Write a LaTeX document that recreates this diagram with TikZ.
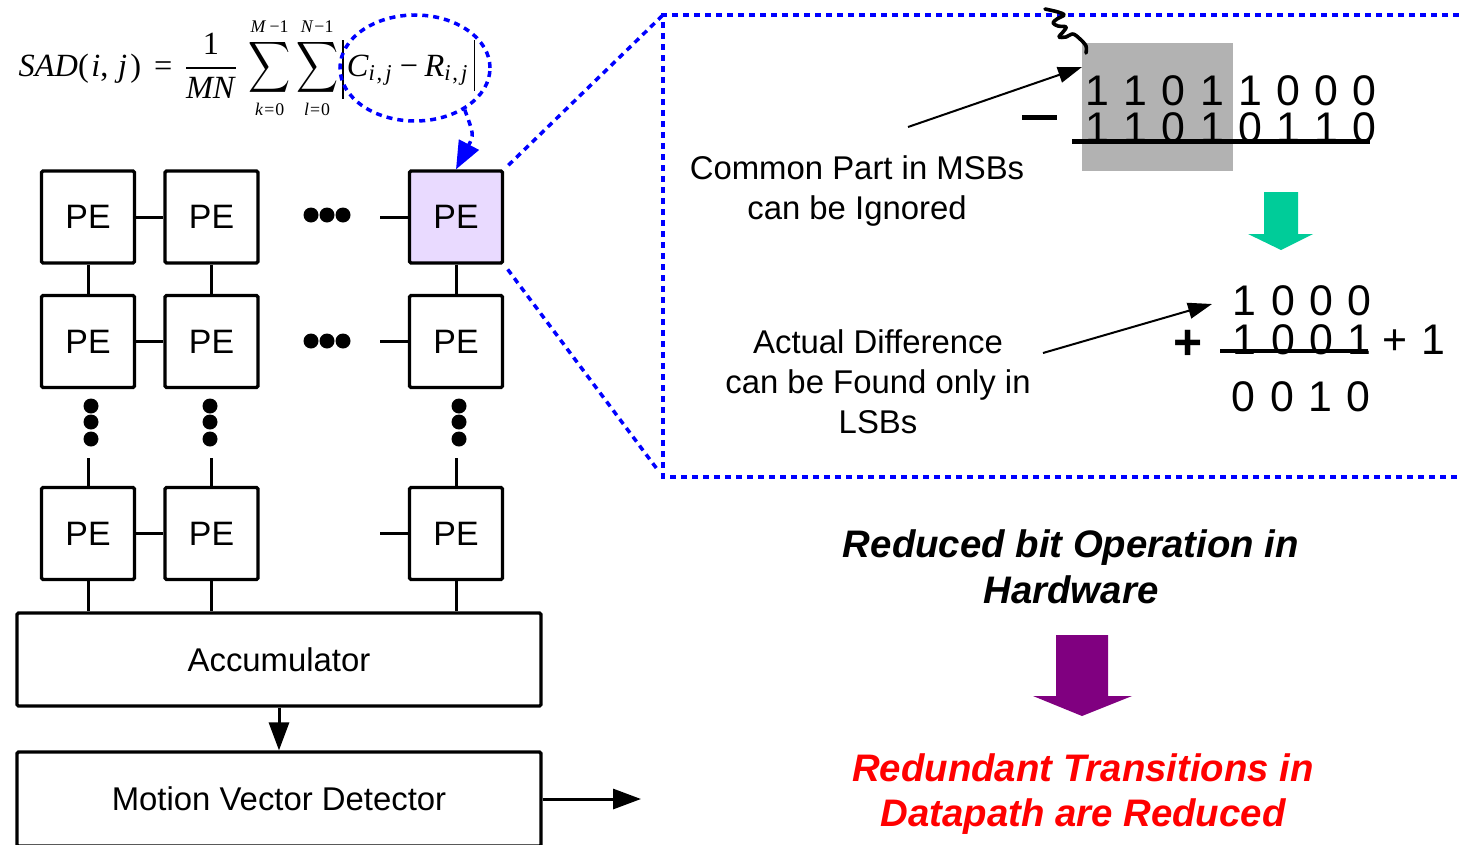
\documentclass[tikz,border=0pt]{standalone}
\usepackage{fontspec}
\setmainfont{Liberation Sans}
\newfontfamily\tms{Liberation Serif}
\newfontfamily\bitfont[WordSpace=1.2]{Liberation Sans}
\usetikzlibrary{arrows.meta,shapes.geometric}

\definecolor{peFill}{RGB}{233,218,255}
\definecolor{msbGray}{RGB}{178,178,178}
\definecolor{tealArrow}{RGB}{0,204,153}
\definecolor{purpArrow}{RGB}{128,0,128}
\definecolor{zoomBlue}{RGB}{0,0,255}

\newcommand{\limfont}{\tms\fontsize{5.5}{6}\selectfont}
\newcommand{\subfont}{\tms\fontsize{7}{8}\selectfont}
\newcommand{\bigsum}{\mathop{\vcenter{\hbox{\scalebox{0.9}[1.1]{$\displaystyle\sum$}}}}\limits}

\begin{document}
\begin{tikzpicture}[x=1bp,y=-1bp,
  pe/.style={draw, line width=3.2bp, rounded corners=1.5bp, minimum width=93bp,
    minimum height=92bp, inner sep=0, font=\fontsize{34}{40}\selectfont},
  wire/.style={line width=3bp},
  bigbox/.style={draw, line width=3.2bp, rounded corners=1.5bp, minimum width=524bp,
    inner sep=0, font=\fontsize{33}{40}\selectfont},
  dotb/.style={fill=black, circle, inner sep=0, minimum size=15bp},
  zoomline/.style={zoomBlue, line width=3.5bp, dash pattern=on 6bp off 5bp},
  lbl/.style={font=\fontsize{33}{40}\selectfont, inner sep=0, anchor=base},
  bits/.style={font=\bitfont\fontsize{43}{50}\selectfont, inner sep=0, anchor=base},
  head/.style={font=\fontsize{38.5}{46}\selectfont\bfseries\itshape, inner sep=0, anchor=base},
  pointer/.style={line width=2bp, -{Triangle[length=24bp,width=16bp]}},
  flow/.style={line width=3bp, -{Triangle[length=28bp,width=20bp]}},
]
\useasboundingbox (0,0) rectangle (1459,844);
\fill[white] (0,0) rectangle (1459,844);

% ---- SAD formula ----
\node[anchor=base west, inner sep=0, scale=3.25] (sad) at (18,76) {\tms\fontsize{10}{12}\selectfont
  \textit{SAD}(\kern0.8pt\textit{i},\kern3pt\textit{j}\kern1pt)\kern4pt=\kern3pt$\displaystyle
  \frac{\hbox{1}}{\hbox{\textit{MN}}}\kern1pt
  \bigsum_{\hbox{\limfont\textit{k}\kern0.3pt=\kern0.3pt0}}^{\hbox{\limfont\textit{M}\kern1pt−1}}
  \bigsum_{\hbox{\limfont\textit{l}\kern0.3pt=\kern0.3pt0}}^{\hbox{\limfont\textit{N}\kern0.3pt−1}}$\kern1.2pt%
  \vrule width 0.45pt height 11pt depth 7pt\kern1pt%
  \textit{C}$_{\hbox{\subfont\textit{i}\kern0.5pt,\kern1pt\textit{j}}}$\kern2pt−\kern2pt%
  \textit{R}$_{\hbox{\subfont\textit{i}\kern0.5pt,\kern1pt\textit{j}}}$\kern1.5pt%
  \vrule width 0.45pt height 11pt depth 4.5pt};

\node[ellipse, draw=zoomBlue, line width=3.5bp, dash pattern=on 6bp off 5bp,
  minimum width=150bp, minimum height=106bp, inner sep=0] (ell) at (415,68) {};

% ---- PE array ----
\node[pe] (p11) at (88,217) {PE};
\node[pe] (p12) at (211.5,217) {PE};
\node[pe, fill=peFill] (p13) at (456,217) {PE};
\node[pe] (p21) at (88,341.5) {PE};
\node[pe] (p22) at (211.5,341.5) {PE};
\node[pe] (p23) at (456,341.5) {PE};
\node[pe] (p31) at (88,533.5) {PE};
\node[pe] (p32) at (211.5,533.5) {PE};
\node[pe] (p33) at (456,533.5) {PE};

\draw[wire] (p11) -- (p12);
\draw[wire] (p21) -- (p22);
\draw[wire] (p31) -- (p32);
\draw[wire] (p11) -- (p21);
\draw[wire] (p12) -- (p22);
\draw[wire] (p13) -- (p23);

\coordinate (s13) at (380,217);
\coordinate (s23) at (380,341.5);
\coordinate (s33) at (380,533.5);
\draw[wire] (s13) -- (p13.west);
\draw[wire] (s23) -- (p23.west);
\draw[wire] (s33) -- (p33.west);

\coordinate (v31) at (88,458);
\coordinate (v32) at (211.5,458);
\coordinate (v33) at (456,458);
\draw[wire] (v31) -- (p31.north);
\draw[wire] (v32) -- (p32.north);
\draw[wire] (v33) -- (p33.north);

% ellipsis dots
\foreach \n/\x in {a/311,b/327,c/343}{
  \node[dotb] (h1\n) at (\x,215) {};
  \node[dotb] (h2\n) at (\x,341) {};
}
\foreach \n/\y in {a/406,b/422,c/439}{
  \node[dotb] (c1\n) at (91,\y) {};
  \node[dotb] (c2\n) at (210,\y) {};
  \node[dotb] (c3\n) at (459,\y) {};
}

% ---- accumulator and detector ----
\node[bigbox, minimum height=93bp] (acc) at (279,659.5) {Accumulator};
\node[bigbox, minimum height=94bp] (mvd) at (279,799) {Motion Vector Detector};
\draw[wire] (p31.south) -- (p31.south |- acc.north);
\draw[wire] (p32.south) -- (p32.south |- acc.north);
\draw[wire] (p33.south) -- (p33.south |- acc.north);
\draw[flow] (acc.south) -- (mvd.north);
\coordinate (out) at (641,799);
\draw[flow] (mvd.east) -- (out);

% ---- blue zoom frame ----
\coordinate (zTL) at (663,15);
\coordinate (zBL) at (663,477);
\coordinate (zTR) at (1470,15);
\coordinate (zBR) at (1470,477);
\draw[zoomline] (zTR) -- (zTL) -- (zBL) -- (zBR);
\draw[zoomline, shorten <=6bp] (p13.north east) -- (zTL);
\draw[zoomline, shorten <=6bp, shorten >=10bp] (p13.south east) -- (zBL);
\draw[zoomline, -{Triangle[length=28bp,width=22bp]}] (ell.-40) .. controls (474,135) .. (p13.north);

% ---- MSB subtraction ----
\node[fill=msbGray, minimum width=151bp, minimum height=128bp, inner sep=0] (msb) at (1157.5,107) {};
\node[bits] (b1) at (1231,105) {1 1 0 1 1 0 0 0};
\node[bits] (b2) at (1231,142) {1 1 0 1 0 1 1 0};
\draw[line width=5bp] (1072,141) -- (1370,141);
\draw[line width=5bp] (1022,117) -- (1057,117);

% hand-drawn curl above the shaded bits
\draw[line width=3.6bp, line cap=round, line join=round] plot[smooth, tension=0.55]
  coordinates {(1045,9) (1058,12) (1064,15) (1057,19) (1053,23) (1058,26) (1066,27)
  (1063,32) (1059,37) (1066,37) (1073,34) (1080,39) (1086,46) (1086,53)};

\node[lbl] (cp1) at (857,179) {Common Part in MSBs};
\node[lbl] (cp2) at (857,219) {can be Ignored};
\coordinate (cpS) at (908,127);
\coordinate (cpE) at (1082,67);
\draw[pointer] (cpS) -- (cpE);

\fill[tealArrow] (1264,192) -- (1298,192) -- (1298,234) -- (1313,234) -- (1281,250)
  -- (1248,234) -- (1264,234) -- cycle;

% ---- LSB addition ----
\node[bits] (c1) at (1302,315) {1 0 0 0};
\node[bits] (c2) at (1302,354) {1 0 0 1};
\draw[line width=4.5bp] (1220,351) -- (1368,351);
\node[font=\fontsize{50}{50}\selectfont\bfseries, inner sep=0] (plus) at (1188,345) {+};
\node[bits] (one) at (1414,354) {+ 1};
\node[bits] (c3) at (1301,411) {0 0 1 0};

\node[lbl] (ad1) at (878,353) {Actual Difference};
\node[lbl] (ad2) at (878,393) {can be Found only in};
\node[lbl] (ad3) at (878,433) {LSBs};
\coordinate (adS) at (1043,353);
\coordinate (adE) at (1212,304);
\draw[pointer] (adS) -- (adE);

% ---- conclusions ----
\node[head] (r1) at (1071,557) {Reduced bit Operation in};
\node[head] (r2) at (1071,603) {Hardware};
\fill[purpArrow] (1056,635) -- (1108,635) -- (1108,696) -- (1132,696) -- (1082,716)
  -- (1033,696) -- (1056,696) -- cycle;
\node[head, red] (t1) at (1083,781) {Redundant Transitions in};
\node[head, red] (t2) at (1083,826) {Datapath are Reduced};
\end{tikzpicture}
\end{document}
